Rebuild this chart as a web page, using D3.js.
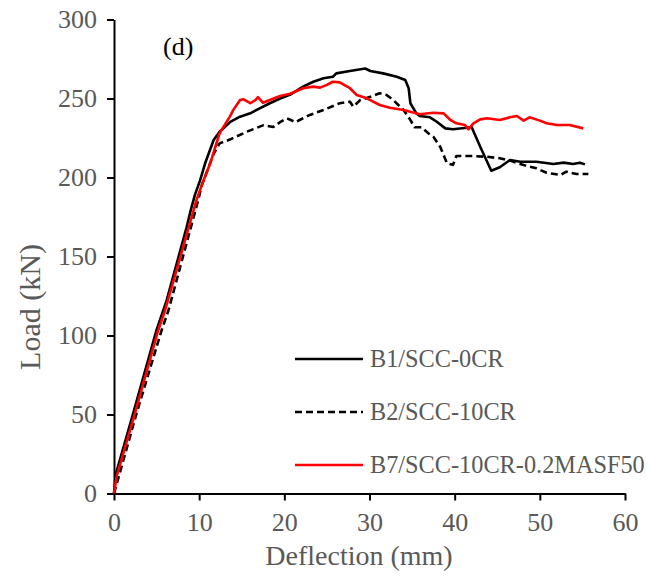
<!DOCTYPE html>
<html><head><meta charset="utf-8">
<script src="https://cdn.jsdelivr.net/npm/d3@7"></script>
<style>
body{margin:0;background:#fff;}
svg{display:block;}
</style></head>
<body>
<svg id="chart" width="647" height="577"></svg>
<script>
const xTicks = [0,10,20,30,40,50,60];
const yTicks = [0,50,100,150,200,250,300];
const seriesNames = ["B1/SCC-0CR","B2/SCC-10CR","B7/SCC-10CR-0.2MASF50"];

const b1 = [[0,0],[0.2,12],[2.27,51],[5.0,103.5],[6.2,122.5],[8.5,168],[9.0,179],[9.5,189],[10.1,198],[10.7,209],[11.7,223.7],[12.4,229],[13.6,235],[14.8,238.5],[16.0,240.6],[17.1,243.8],[18.3,247],[19.5,250],[20.7,252.5],[22.2,257.5],[23.4,260.6],[24.6,262.8],[25.7,263.8],[26.1,265.9],[27.7,267.4],[29.5,269],[30.1,267.4],[31.6,265.9],[33.2,263.8],[34.2,261.7],[34.6,256.5],[34.8,247],[35.5,240.6],[35.9,238.9],[37.1,238.1],[37.9,235.3],[38.9,231.1],[39.8,230.5],[42.0,231.8],[43.0,219.5],[44.3,204.3],[45.3,206.5],[46.5,211.1],[47.7,210],[49.6,210],[51.6,208.5],[52.8,209.4],[53.9,208.5],[54.7,209.4],[55.3,208.3]];

const b2 = [[0,0],[2.66,51],[5.6,103.5],[6.4,116],[9.9,186],[10.3,195],[11.7,215],[12.4,221.6],[13.6,224],[15.6,229],[17.5,233],[18.7,232],[19.5,235],[20.3,237.5],[21.3,235],[21.8,236.4],[23.0,239.6],[24.6,242.7],[26.5,247],[27.7,248],[28.1,244.8],[28.9,249],[30.1,251.1],[31.2,253.3],[32.0,252.2],[32.8,249],[34.0,242.7],[34.8,236.4],[35.3,231.8],[36.1,231.8],[36.9,228],[37.5,225.8],[38.3,219.5],[39.1,209],[39.8,208],[40.2,213.6],[42.2,213.6],[43.8,213.1],[45.3,212.2],[46.5,210.7],[48.1,207.9],[49.6,205.8],[50.8,203],[52.4,201.6],[53.1,203.7],[54.3,202.2],[55.7,202.2]];

const b7 = [[0,0],[0.3,10.6],[2.47,51],[5.2,103.5],[6.0,116],[9.7,186],[10.5,198],[11.3,209],[12.4,228],[13.6,238.5],[14.0,242.7],[14.8,249],[15.2,249.5],[16.0,247],[16.6,249],[16.9,250.8],[17.5,247.3],[18.3,249],[19.5,251.6],[20.7,253],[22.2,256.5],[23.4,257.5],[24.2,256.9],[25.0,258.6],[25.7,260.6],[26.5,260.2],[27.7,256.5],[28.5,252.2],[29.7,250.1],[31.2,245.9],[32.4,244.2],[34.0,242.7],[35.9,240],[37.5,241],[38.7,240.6],[39.5,236.4],[40.2,234.3],[41.2,233.2],[41.6,230.5],[42.2,234.3],[43.0,236.8],[43.8,237.5],[45.3,236.4],[46.5,238.1],[47.3,238.9],[48.1,236],[48.8,238.1],[50.0,236],[50.8,234.3],[52.0,233.2],[53.5,233.2],[55.1,231.1]];

const svg = d3.select("#chart");
const mLeft = 114, mRight = 625, mTop = 19.5, mBottom = 493.5;
const x = d3.scaleLinear().domain([0,60]).range([mLeft,mRight]);
const y = d3.scaleLinear().domain([0,300]).range([mBottom,mTop]);
const font = "'Liberation Serif','Times New Roman',serif";
const grey = "#595959";

// axes
const xAxis = svg.append("g").attr("transform",`translate(0,${mBottom})`)
  .call(d3.axisBottom(x).tickValues(xTicks).tickSize(7).tickPadding(12).tickSizeOuter(0));
const yAxis = svg.append("g").attr("transform",`translate(${mLeft},0)`)
  .call(d3.axisLeft(y).tickValues(yTicks).tickSize(7).tickPadding(10).tickSizeOuter(0));
[xAxis,yAxis].forEach(a=>{
  a.select(".domain").attr("stroke","#000").attr("stroke-width",2);
  a.selectAll(".tick line").attr("stroke","#000").attr("stroke-width",2);
  a.selectAll(".tick text").attr("fill",grey).style("font-family",font).style("font-size","26px");
});

const line = d3.line().x(d=>x(d[0])).y(d=>y(d[1]));
const series = [
  {data:b1, color:"#000", dash:null},
  {data:b2, color:"#000", dash:"7,4"},
  {data:b7, color:"#ff0000", dash:null}
];
series.forEach(s=>{
  svg.append("path").datum(s.data).attr("d",line)
    .attr("fill","none").attr("stroke",s.color).attr("stroke-width",2.6)
    .attr("stroke-linejoin","round")
    .attr("stroke-dasharray",s.dash);
});

// legend
const legY = [359, 412, 465];
series.forEach((s,i)=>{
  svg.append("line").attr("x1",295).attr("x2",363).attr("y1",legY[i]).attr("y2",legY[i])
    .attr("stroke",s.color).attr("stroke-width",2.6).attr("stroke-dasharray",s.dash);
  svg.append("text").attr("x",370).attr("y",legY[i]+8).text(seriesNames[i])
    .attr("fill",grey).style("font-family",font).style("font-size","24.3px");
});

// labels
svg.append("text").attr("x",163).attr("y",55).text("(d)")
  .attr("fill","#000").style("font-family",font).style("font-size","26px");
svg.append("text").attr("x",359).attr("y",565).attr("text-anchor","middle")
  .text("Deflection (mm)").attr("fill",grey).style("font-family",font).style("font-size","28px");
svg.append("text").attr("transform","translate(40,307) rotate(-90)").attr("text-anchor","middle")
  .text("Load (kN)").attr("fill",grey).style("font-family",font).style("font-size","30px");
</script>
</body></html>
